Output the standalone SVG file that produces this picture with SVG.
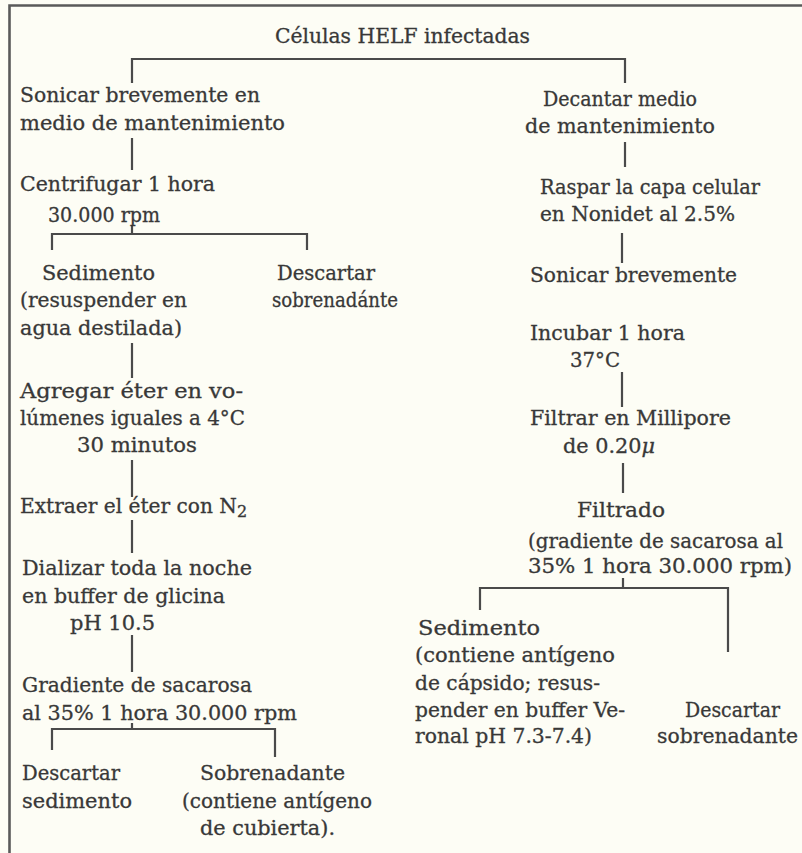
<svg xmlns="http://www.w3.org/2000/svg" width="802" height="853" viewBox="0 0 802 853">
<style>
text{font-family:"DejaVu Serif","Liberation Serif",serif;font-size:20px;fill:#383838;stroke:#383838;stroke-width:0.3}
.ln{fill:none;stroke:#4a4a4a;stroke-width:2.2}
.fr{fill:none;stroke:#5a5a5a;stroke-width:2.6}
</style>
<rect width="802" height="853" fill="#fdfdf5"/>
<g id="frame"><path class="fr" d="M9.5,853 V5.5 H802"/></g>
<g id="connectors">
<path class="ln" d="M132,83 V59 H625 V83"/>
<path class="ln" d="M132,138 V170"/>
<path class="ln" d="M132,226 V234 M52,250 V234 H307 V250"/>
<path class="ln" d="M132,343 V378"/>
<path class="ln" d="M132,460 V497"/>
<path class="ln" d="M132,520 V553"/>
<path class="ln" d="M132,635 V672"/>
<path class="ln" d="M132,723 V729 M52,750 V729 H275 V757"/>
<path class="ln" d="M625,142 V167"/>
<path class="ln" d="M622,233 V263"/>
<path class="ln" d="M622,372 V407"/>
<path class="ln" d="M623,463 V493"/>
<path class="ln" d="M623,578 V588 M480,610 V588 H728 V652"/>
</g>
<g id="n-title"><text x="275" y="43" textLength="255" lengthAdjust="spacingAndGlyphs">Células HELF infectadas</text></g>
<g id="n-sonicar">
<text x="20" y="102" textLength="240" lengthAdjust="spacingAndGlyphs">Sonicar brevemente en</text>
<text x="20" y="130" textLength="265" lengthAdjust="spacingAndGlyphs">medio de mantenimiento</text>
</g>
<g id="n-centrifugar">
<text x="20" y="191" textLength="195" lengthAdjust="spacingAndGlyphs">Centrifugar 1 hora</text>
<text x="48" y="222" textLength="112" lengthAdjust="spacingAndGlyphs">30.000 rpm</text>
</g>
<g id="n-sedimento1">
<text x="42" y="280" textLength="113" lengthAdjust="spacingAndGlyphs">Sedimento</text>
<text x="20" y="307" textLength="167" lengthAdjust="spacingAndGlyphs">(resuspender en</text>
<text x="20" y="335" textLength="162" lengthAdjust="spacingAndGlyphs">agua destilada)</text>
</g>
<g id="n-descartar1">
<text x="277" y="280" textLength="98" lengthAdjust="spacingAndGlyphs">Descartar</text>
<text x="272" y="307" textLength="126" lengthAdjust="spacingAndGlyphs">sobrenadánte</text>
</g>
<g id="n-agregar">
<text x="20" y="398" textLength="223" lengthAdjust="spacingAndGlyphs">Agregar éter en vo-</text>
<text x="20" y="425" textLength="225" lengthAdjust="spacingAndGlyphs">lúmenes iguales a 4°C</text>
<text x="77" y="452" textLength="120" lengthAdjust="spacingAndGlyphs">30 minutos</text>
</g>
<g id="n-extraer">
<text x="20" y="513"><tspan textLength="217" lengthAdjust="spacingAndGlyphs">Extraer el éter con N</tspan><tspan dy="4" font-size="16">2</tspan></text>
</g>
<g id="n-dializar">
<text x="22" y="575" textLength="230" lengthAdjust="spacingAndGlyphs">Dializar toda la noche</text>
<text x="22" y="603" textLength="203" lengthAdjust="spacingAndGlyphs">en buffer de glicina</text>
<text x="70" y="630" textLength="85" lengthAdjust="spacingAndGlyphs">pH 10.5</text>
</g>
<g id="n-gradiente">
<text x="22" y="692" textLength="230" lengthAdjust="spacingAndGlyphs">Gradiente de sacarosa</text>
<text x="22" y="720" textLength="275" lengthAdjust="spacingAndGlyphs">al 35% 1 hora 30.000 rpm</text>
</g>
<g id="n-descartar2">
<text x="22" y="780" textLength="98" lengthAdjust="spacingAndGlyphs">Descartar</text>
<text x="22" y="808" textLength="110" lengthAdjust="spacingAndGlyphs">sedimento</text>
</g>
<g id="n-sobrenadante">
<text x="200" y="780" textLength="145" lengthAdjust="spacingAndGlyphs">Sobrenadante</text>
<text x="182" y="808" textLength="190" lengthAdjust="spacingAndGlyphs">(contiene antígeno</text>
<text x="200" y="835" textLength="135" lengthAdjust="spacingAndGlyphs">de cubierta).</text>
</g>
<g id="n-decantar">
<text x="543" y="106" textLength="154" lengthAdjust="spacingAndGlyphs">Decantar medio</text>
<text x="525" y="133" textLength="190" lengthAdjust="spacingAndGlyphs">de mantenimiento</text>
</g>
<g id="n-raspar">
<text x="540" y="194" textLength="220" lengthAdjust="spacingAndGlyphs">Raspar la capa celular</text>
<text x="540" y="221" textLength="195" lengthAdjust="spacingAndGlyphs">en Nonidet al 2.5%</text>
</g>
<g id="n-sonicar2">
<text x="530" y="282" textLength="207" lengthAdjust="spacingAndGlyphs">Sonicar brevemente</text>
</g>
<g id="n-incubar">
<text x="530" y="340" textLength="155" lengthAdjust="spacingAndGlyphs">Incubar 1 hora</text>
<text x="570" y="367" textLength="50" lengthAdjust="spacingAndGlyphs">37°C</text>
</g>
<g id="n-filtrar">
<text x="530" y="425" textLength="201" lengthAdjust="spacingAndGlyphs">Filtrar en Millipore</text>
<text x="563" y="453" textLength="92" lengthAdjust="spacingAndGlyphs">de 0.20<tspan font-style="italic">μ</tspan></text>
</g>
<g id="n-filtrado">
<text x="577" y="517" textLength="88" lengthAdjust="spacingAndGlyphs">Filtrado</text>
<text x="528" y="548" textLength="255" lengthAdjust="spacingAndGlyphs">(gradiente de sacarosa al</text>
<text x="528" y="573" textLength="264" lengthAdjust="spacingAndGlyphs">35% 1 hora 30.000 rpm)</text>
</g>
<g id="n-sedimento2">
<text x="418" y="635" textLength="122" lengthAdjust="spacingAndGlyphs">Sedimento</text>
<text x="415" y="662" textLength="200" lengthAdjust="spacingAndGlyphs">(contiene antígeno</text>
<text x="415" y="690" textLength="185" lengthAdjust="spacingAndGlyphs">de cápsido; resus-</text>
<text x="415" y="717" textLength="210" lengthAdjust="spacingAndGlyphs">pender en buffer Ve-</text>
<text x="415" y="743" textLength="177" lengthAdjust="spacingAndGlyphs">ronal pH 7.3-7.4)</text>
</g>
<g id="n-descartar3">
<text x="685" y="717" textLength="95" lengthAdjust="spacingAndGlyphs">Descartar</text>
<text x="657" y="743" textLength="141" lengthAdjust="spacingAndGlyphs">sobrenadante</text>
</g>
</svg>
